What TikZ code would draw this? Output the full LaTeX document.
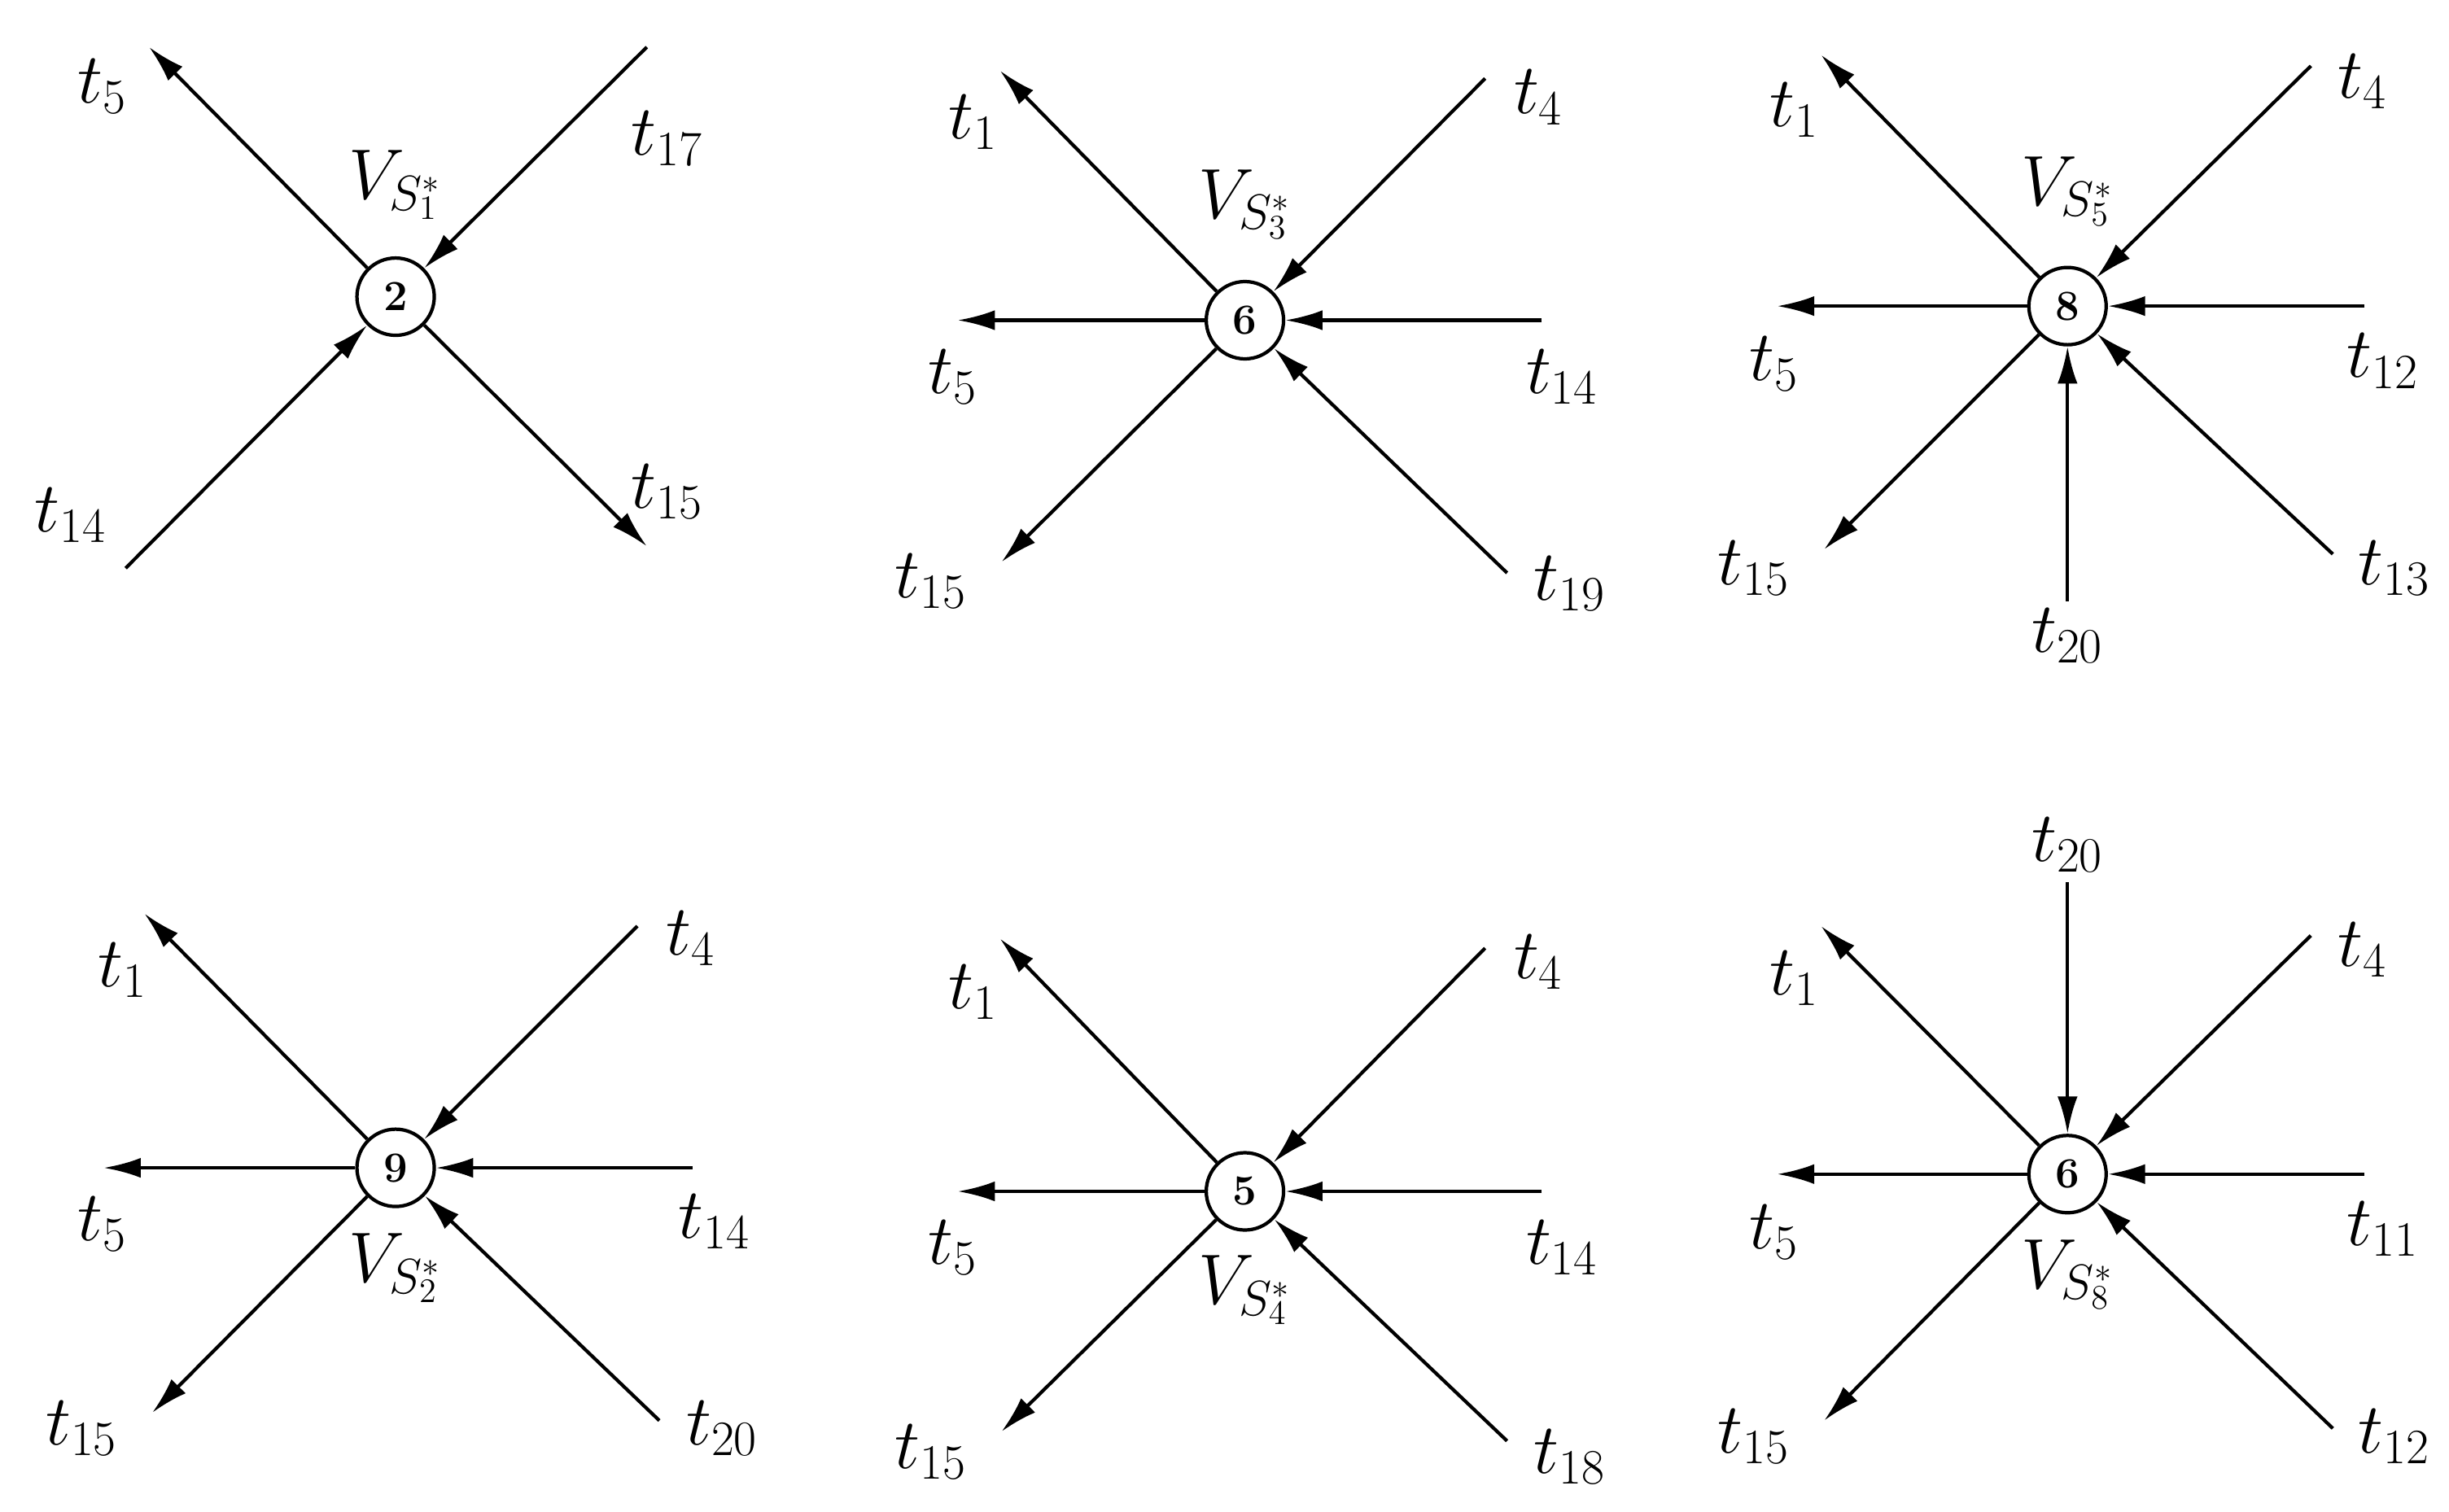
\documentclass[tikz,border=0pt]{standalone}
\usetikzlibrary{arrows.meta}
\newcommand{\myspoke}[8]{%
  \coordinate (#2e) at (#3,-#4);
  \node[lbl] (#2l) at (#7,-#8) {$#6$};
  \ifx#5o\draw[spoke,-{Latex[length=13pt,width=7pt]}] (#1) -- (#2e);
  \else\draw[spoke,-{Latex[length=13pt,width=7pt]}] (#2e) -- (#1);\fi}
\begin{document}
\begin{tikzpicture}[x=0.01929cm,y=0.01929cm,
  hub/.style={circle,draw,line width=1.2pt,minimum size=0.95cm,inner sep=0pt,font=\fontsize{15}{18}\selectfont\bfseries},
  lbl/.style={font=\fontsize{25}{30}\selectfont,inner sep=0pt},
  spoke/.style={line width=1.2pt}]
\useasboundingbox (0,0) rectangle (1560,-963);
% 1
\node[hub] (c1) at (252,-189) {2};
\node[lbl] (v1) at (252,-118) {$V_{S_1^*}$};
\myspoke{c1}{a1}{95}{30}{o}{t_5}{65}{55}
\myspoke{c1}{a2}{412}{30}{i}{t_{17}}{425}{88}
\myspoke{c1}{a3}{80}{362}{i}{t_{14}}{45}{328}
\myspoke{c1}{a4}{412}{348}{o}{t_{15}}{425}{313}
% 2
\node[hub] (c2) at (793,-204) {6};
\node[lbl] (v2) at (793,-130) {$V_{S_3^*}$};
\myspoke{c2}{b1}{637}{45}{o}{t_1}{620}{78}
\myspoke{c2}{b2}{946}{50}{i}{t_4}{980}{62}
\myspoke{c2}{b3}{610}{204}{o}{t_5}{607}{240}
\myspoke{c2}{b4}{982}{204}{i}{t_{14}}{995}{240}
\myspoke{c2}{b5}{638}{358}{o}{t_{15}}{593}{370}
\myspoke{c2}{b6}{960}{365}{i}{t_{19}}{1000}{372}
% 3
\node[hub] (c3) at (1317,-195) {8};
\node[lbl] (v3) at (1317,-122) {$V_{S_5^*}$};
\myspoke{c3}{d1}{1160}{35}{o}{t_1}{1143}{70}
\myspoke{c3}{d2}{1472}{42}{i}{t_4}{1505}{52}
\myspoke{c3}{d3}{1132}{195}{o}{t_5}{1130}{232}
\myspoke{c3}{d4}{1506}{195}{i}{t_{12}}{1518}{230}
\myspoke{c3}{d5}{1162}{350}{o}{t_{15}}{1117}{362}
\myspoke{c3}{d6}{1486}{353}{i}{t_{13}}{1525}{362}
\myspoke{c3}{d7}{1317}{383}{i}{t_{20}}{1317}{405}
% 4
\node[hub] (c4) at (252,-744) {9};
\node[lbl] (v4) at (252,-808) {$V_{S_2^*}$};
\myspoke{c4}{f1}{92}{582}{o}{t_1}{78}{618}
\myspoke{c4}{f2}{406}{590}{i}{t_4}{440}{598}
\myspoke{c4}{f3}{66}{744}{o}{t_5}{65}{780}
\myspoke{c4}{f4}{441}{744}{i}{t_{14}}{455}{778}
\myspoke{c4}{f5}{97}{900}{o}{t_{15}}{52}{910}
\myspoke{c4}{f6}{420}{905}{i}{t_{20}}{460}{910}
% 5
\node[hub] (c5) at (793,-759) {5};
\node[lbl] (v5) at (793,-822) {$V_{S_4^*}$};
\myspoke{c5}{g1}{637}{598}{o}{t_1}{620}{632}
\myspoke{c5}{g2}{946}{604}{i}{t_4}{980}{613}
\myspoke{c5}{g3}{610}{759}{o}{t_5}{607}{795}
\myspoke{c5}{g4}{982}{759}{i}{t_{14}}{995}{795}
\myspoke{c5}{g5}{638}{912}{o}{t_{15}}{593}{925}
\myspoke{c5}{g6}{960}{918}{i}{t_{18}}{1000}{928}
% 6
\node[hub] (c6) at (1317,-748) {6};
\node[lbl] (v6) at (1317,-812) {$V_{S_8^*}$};
\myspoke{c6}{h0}{1317}{562}{i}{t_{20}}{1317}{538}
\myspoke{c6}{h1}{1160}{590}{o}{t_1}{1143}{623}
\myspoke{c6}{h2}{1472}{596}{i}{t_4}{1505}{605}
\myspoke{c6}{h3}{1132}{748}{o}{t_5}{1130}{785}
\myspoke{c6}{h4}{1506}{748}{i}{t_{11}}{1518}{783}
\myspoke{c6}{h5}{1162}{905}{o}{t_{15}}{1117}{915}
\myspoke{c6}{h6}{1486}{910}{i}{t_{12}}{1525}{915}
\end{tikzpicture}
\end{document}
